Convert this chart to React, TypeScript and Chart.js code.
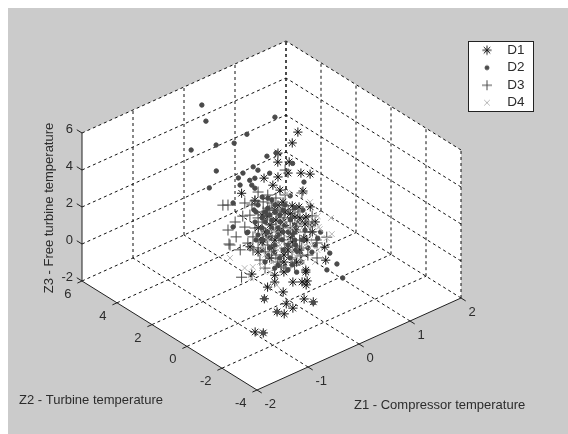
import React, { useEffect, useRef } from "react";
import { Chart, registerables } from "chart.js";
import { drawPoint } from "chart.js/helpers";

Chart.register(...registerables);

const seriesNames = ["D1", "D2", "D3", "D4"];

const d1Z1 = [0.86,0.75,0.47,0.81,0.69,1.01,0.92,1.1,0.54,0.47,0.37,0.1,0.51,0.96,0.36,0.57,0.75,0.54,0.76,0.41,1.02,0.46,0.18,-0.42,0.7,0.35,0.37,0.16,-0.73,-0.28,-0.1,-0.28,-0.42,-0.61,-0.43,-0.33,-0.35,0.33,-0.8,-1.17,-0.39,-0.21,-0.74,-0.61,-0.92,-0.78,-1.35,-1.19,0.72,0.33,0.47,-0.03,0.57,0.48,0.41,-0.02,0.21,-0.38,-0.1,0.15,0.8,1,0.16,-0.26,0.61,0.27,0.43,0.71,0.9,0.22,0.53,0.75,0.35,0.29,1.2,0.08,-0.1];
const d1Z2 = [2,2,2,3,2,3,2,2,3,2,2,3,2,2,3,2,2,1,1,2,2,1,2,1,0,0,1,2,0,0,0,0,0,-2,-2,-2,-2,0,-2,-2,-2,-2,-2,-2,-2,-2,-2,-2,0,0,2,1,2,1,2,0,0,0,0,0,1,2,2,1,2,2,2,2,2,2,2,2,2,0,2,2,0];
const d1Z3 = [4.85,4.4,4.2,2.7,3.45,1.86,2.56,2.28,2.17,2.91,2.59,1.9,2.15,1.54,1.2,1.43,1,1.79,1.52,1.19,0.06,1.35,-0.14,0.83,0.01,0.83,0.39,-0.22,0.33,-0.29,-0.34,-0.66,-0.76,0.93,0.71,0.64,0.45,-0.88,0.63,0.72,-0.26,-0.64,-0.09,-0.48,-0.3,-0.58,-0.85,-1.1,-0.72,-0.77,1.39,1.53,0.35,0.63,-0.43,0.75,0.46,0.76,0.2,-0.12,0.12,-0.29,1.24,1.66,0.84,1.04,0.63,0.62,0.16,0.25,-0.14,-0.95,-0.78,1,-0.43,-0.66,0.58];

const d2Z1 = [0.35,0.43,0.14,0.63,0.64,0.89,1.44,0.29,-0.19,0.94,1.12,0.47,0.26,0.36,0.42,0.67,0.38,0.07,0.3,0.36,0.65,0.98,1.1,-0.41,0,-0.48,-0.41,0.62,0.8,0.94,0.71,0.4,0.51,0.45,0.15,-0.21,-1.17,-0.92,-1.19,0.16,0.35,0.27,0.51,0.71,0.35,0.16,0.47,0.75,0.31,0.55,0.27,0.16,-0.28,0.02,0.25,-0.28,-0.02,1.14,0.9,-0.47,0.57,0.13,0.04,0.71,-0.12,0.08,0.22,0.41,0.61,0.31,0.51,0.02,0.22,0.8,0.27,0.67,0.08,0.41,-0.02,0.17,-0.42,-0.18,0.8,0.41,0.57,0.35,0.61,0.16,0.47,0.8,1,0.31,0.57,0.8,1.06,0.47,0.75,0.16,0.27,0.8,0.04,0.96,1.25];
const d2Z2 = [6,6,6,6,5,5,5,5,4,4,4,4,3,3,3,4,4,3,3,3,3,2,3,2,2,1,2,0,0,0,-1,-1,0,0,0,-2,-2,-2,-2,2,2,2,2,2,2,2,2,2,2,2,0,2,0,0,0,0,0,2,2,0,2,0,2,2,2,2,2,2,2,2,2,2,2,2,2,2,2,2,0,0,0,0,2,2,2,2,2,2,2,2,2,2,2,2,2,2,2,2,2,2,2,2,2];
const d2Z3 = [4.59,3.62,2.42,2.08,2.76,2.93,3.17,1.69,1.96,2.27,2.22,1.94,2.4,2.39,2.75,2.03,1.79,2.38,2.09,1.85,2.3,2,2.27,2.6,1.71,1.66,1.3,0.92,-0.44,-1.2,-1.08,-0.26,0.36,0.05,-0.66,-0.69,0.72,-0.3,-1.1,2.21,1.81,1.47,0.8,0.29,0.73,0.54,0.15,-0.57,-0.19,-0.59,0.92,-0.65,0.96,0.27,-0.24,0.09,-0.33,-0.52,-0.06,0.66,-0.19,0.83,0.04,1.59,0.66,1.88,1.33,1.46,1.22,1.05,0.43,1.03,0.79,-0.1,0.18,-0.31,0.26,-0.7,1.02,0.4,0.97,0.51,-0.91,1.09,1,0.3,0.14,-0.11,-0.23,-0.48,-0.62,-0.73,-1.16,-1.45,-1.66,-1.85,-2.19,1.08,2.01,0.82,1.55,0.51,-1.37];

const d3Z1 = [-0.61,-0.51,-0.18,0.02,0.18,-0.22,-0.37,-0.51,-0.18,-0.35,-0.02,-0.47,0.08,0.61,0.94,1.1,0.55,-0.49,-0.27,-0.02,-0.93,-0.47,0.55,0.74,0.31,0.55,0.16,0.43,0.71,0.21,0.27,-0.08,-0.57,-0.22,0.11,0.37,-0.04,0.86,1.14,0.27,0.61,0.35,0.24,0.51,0.75,0.02,0.35,0.16,0.59,0.06,0.25,-0.34,0.08,-0.06,0.27,0.45,0.67,0.08,0.35,0.57,0.84,0.24,0.49,0.75,1,0.39,0.67,0.92,0.22,0.53,0.43,0.82,0.18,0.59,0.43,-0.08,-0.12,1.22,1.06];
const d3Z2 = [2,2,2,2,2,2,2,2,2,2,2,2,2,2,2,2,0,2,2,2,0,0,0,0,2,2,2,2,2,0,2,0,0,0,0,0,2,2,2,2,2,2,2,2,2,2,2,2,2,0,0,0,2,0,2,2,2,2,2,2,2,2,2,2,2,2,2,2,2,2,2,2,2,2,2,2,2,2,2];
const d3Z3 = [2.73,2.61,2.31,2.17,1.92,1.65,1.52,1.26,1.01,0.69,0.28,0.4,2.58,3.11,1.46,-0.85,0.42,0.48,-0.11,-0.43,0.41,0.33,-0.39,0.5,1.32,1.3,0.86,0.09,-0.14,1,-0.52,0.93,0.89,0.35,-0.23,-0.01,2.03,0.53,-0.03,2.18,1.76,1.65,1.09,0.97,0.35,0.71,-0.14,-0.11,-0.64,0.22,0.52,0.71,-0.44,-0.17,1.47,0.93,0.88,1.18,0.51,0.14,-0.21,0.12,-0.42,-0.51,-0.72,-0.72,-1.39,-1.92,-0.83,-1.98,-1.26,-1.26,1.38,0.55,1.82,1.53,0.07,-1.43,-0.26];

const d4Z1 = [-0.47,-0.87,-0.71,-0.75,0.84,0.56,-0.57,-0.24,1.25,1.51,1.27,1.29,0.65,1.1,0.74,0.9,0.41,0.06,0.31,0.51,0.22,0.67,0.9,0.51,-0.38,0.59,0.45,0.13,0.39,-0.53,0.16,0.47,0.75,0.27,0.35,1.14,0.27];
const d4Z2 = [2,0,0,0,0,0,0,0,2,2,2,2,2,2,0,2,0,0,0,2,2,2,2,0,0,2,0,0,2,0,2,2,2,0,2,2,2];
const d4Z3 = [-0.3,0.83,0.69,0.14,0.54,0.02,0.78,-0.88,-0.18,-0.6,-0.79,-0.93,1.82,0.77,0.45,-0.49,0.75,0.65,0.6,-0.82,-0.99,-0.63,-0.06,-0.56,0,0.33,0.38,0.23,0.03,0.41,-0.54,-1.04,-0.19,-0.27,-1.54,-0.52,-0.25];

const z1Ticks = [-2, -1, 0, 1, 2];
const z2Ticks = [-4, -2, 0, 2, 4, 6];
const z3Ticks = [-2, 0, 2, 4, 6];
const z1Title = "Z1 - Compressor temperature";
const z2Title = "Z2 - Turbine temperature";
const z3Title = "Z3 - Free turbine temperature";

const WIDTH = 560;
const HEIGHT = 426;
const INK = "#2c2c2c";
const GRAY = "#cbcbcb";
const FONT = '13px "Liberation Sans", Arial, sans-serif';

type P = { x: number; y: number };

// Fixed oblique view of the 3D box.
const project = (z1: number, z2: number, z3: number): P => ({
  x: 281 + 51 * z1 - 17.5 * z2,
  y: 255.4 - 23 * z1 - 10.9 * z2 - 18.5 * z3,
});

const cloud = (a: number[], b: number[], c: number[]) => a.map((v, i) => project(v, b[i], c[i]));
const gap: P = { x: NaN, y: NaN };

const Z1A = z1Ticks[0], Z1B = z1Ticks[z1Ticks.length - 1];
const Z2A = z2Ticks[0], Z2B = z2Ticks[z2Ticks.length - 1];
const Z3A = z3Ticks[0], Z3B = z3Ticks[z3Ticks.length - 1];

function gridSegments(): P[] {
  const out: P[] = [];
  const seg = (a: P, b: P) => out.push(a, b, gap);
  z1Ticks.slice(1).forEach((t) => {
    seg(project(t, Z2A, Z3A), project(t, Z2B, Z3A));
    seg(project(t, Z2B, Z3A), project(t, Z2B, Z3B));
  });
  z2Ticks.forEach((t) => {
    if (t !== Z2A) seg(project(Z1A, t, Z3A), project(Z1B, t, Z3A));
    seg(project(Z1B, t, Z3A), project(Z1B, t, Z3B));
  });
  z3Ticks.slice(1).forEach((t) => {
    seg(project(Z1A, Z2B, t), project(Z1B, Z2B, t));
    seg(project(Z1B, Z2A, t), project(Z1B, Z2B, t));
  });
  return out;
}

function axisSegments(): P[] {
  const out: P[] = [];
  const seg = (a: P, b: P) => out.push(a, b, gap);
  seg(project(Z1A, Z2B, Z3A), project(Z1A, Z2B, Z3B));
  seg(project(Z1A, Z2A, Z3A), project(Z1A, Z2B, Z3A));
  seg(project(Z1A, Z2A, Z3A), project(Z1B, Z2A, Z3A));
  z3Ticks.forEach((t) => seg(project(Z1A, Z2B, t), project(Z1A, Z2B + 0.3, t)));
  z2Ticks.forEach((t) => seg(project(Z1A, t, Z3A), project(Z1A - 0.09, t, Z3A)));
  z1Ticks.forEach((t) => seg(project(t, Z2A, Z3A), project(t, Z2A - 0.27, Z3A)));
  return out;
}

const seriesStyle = [
  { style: "star", radius: 4.6, color: "#161616", legendRadius: 4.6 },
  { style: "circle", radius: 2.2, color: "#4a4a4a", legendRadius: 2 },
  { style: "cross", radius: 5.5, color: "#484848", legendRadius: 5 },
  { style: "crossRot", radius: 4, color: "#b8b8b8", legendRadius: 4 },
];

function glyph(i: number): HTMLCanvasElement {
  const s = seriesStyle[i];
  const c = document.createElement("canvas");
  c.width = 14;
  c.height = 14;
  const ctx = c.getContext("2d")!;
  ctx.strokeStyle = s.color;
  ctx.fillStyle = s.color;
  ctx.lineWidth = 1;
  drawPoint(ctx, { pointStyle: s.style, rotation: 0, borderWidth: 1, radius: s.legendRadius }, 7, 7);
  return c;
}

export default function App() {
  const ref = useRef<HTMLCanvasElement>(null);

  useEffect(() => {
    const pointSet = (label: string, i: number, data: P[]) => ({
      label,
      data,
      showLine: false,
      order: 4 - i,
      pointStyle: seriesStyle[i].style,
      pointRadius: seriesStyle[i].radius,
      pointBorderWidth: 1,
      pointBorderColor: seriesStyle[i].color,
      pointBackgroundColor: seriesStyle[i].color,
    });

    const chart = new Chart(ref.current!, {
      type: "scatter",
      data: {
        datasets: [
          pointSet(seriesNames[0], 0, cloud(d1Z1, d1Z2, d1Z3)),
          pointSet(seriesNames[1], 1, cloud(d2Z1, d2Z2, d2Z3)),
          pointSet(seriesNames[2], 2, cloud(d3Z1, d3Z2, d3Z3)),
          pointSet(seriesNames[3], 3, cloud(d4Z1, d4Z2, d4Z3)),
          {
            label: "grid",
            data: gridSegments(),
            showLine: true,
            spanGaps: false,
            order: 10,
            pointRadius: 0,
            borderColor: "#111",
            borderWidth: 1,
            borderDash: [3, 3],
          },
          {
            label: "axes",
            data: axisSegments(),
            showLine: true,
            spanGaps: false,
            order: 9,
            pointRadius: 0,
            borderColor: "#222",
            borderWidth: 1,
          },
        ],
      } as never,
      options: {
        animation: false,
        responsive: false,
        events: [],
        layout: { padding: 0, autoPadding: false },
        scales: {
          x: { type: "linear", display: false, min: 0, max: WIDTH },
          y: { type: "linear", display: false, min: 0, max: HEIGHT, reverse: true },
        },
        plugins: {
          tooltip: { enabled: false },
          legend: {
            position: "chartArea",
            align: "start",
            labels: {
              usePointStyle: true,
              pointStyleWidth: 27,
              boxHeight: 13,
              padding: 4,
              color: INK,
              font: { family: '"Liberation Sans", Arial, sans-serif', size: 13.5, lineHeight: 1 },
              generateLabels: () =>
                seriesNames.map((text, i) => ({
                  text,
                  datasetIndex: i,
                  hidden: false,
                  lineWidth: 1,
                  fillStyle: seriesStyle[i].color,
                  strokeStyle: seriesStyle[i].color,
                  fontColor: INK,
                  pointStyle: glyph(i),
                })),
            },
          },
        },
      } as never,
      plugins: [
        {
          id: "box3d",
          afterUpdate(c: any) {
            const lg = c.legend;
            lg.left = 461.5;
            lg.right = 530;
            lg.top = 31.5;
            lg.bottom = 110;
          },
          beforeDraw(c: any) {
            const ctx = c.ctx;
            ctx.save();
            ctx.fillStyle = GRAY;
            ctx.fillRect(0, 0, WIDTH, HEIGHT);
            ctx.fillStyle = "#ffffff";
            ctx.strokeStyle = "#222";
            ctx.lineWidth = 1;
            ctx.fillRect(460, 33, 65, 70);
            ctx.strokeRect(460.5, 33.5, 65, 70);
            ctx.restore();
          },
          beforeDatasetsDraw(c: any) {
            const ctx = c.ctx;
            const sx = c.scales.x;
            const sy = c.scales.y;
            const corners = [
              project(Z1A, Z2B, Z3B),
              project(Z1B, Z2B, Z3B),
              project(Z1B, Z2A, Z3B),
              project(Z1B, Z2A, Z3A),
              project(Z1A, Z2A, Z3A),
              project(Z1A, Z2B, Z3A),
            ];
            ctx.save();
            ctx.fillStyle = "#ffffff";
            ctx.beginPath();
            corners.forEach((p, i) => {
              const X = sx.getPixelForValue(p.x);
              const Y = sy.getPixelForValue(p.y);
              if (i) ctx.lineTo(X, Y);
              else ctx.moveTo(X, Y);
            });
            ctx.closePath();
            ctx.fill();
            ctx.restore();
          },
          afterDatasetsDraw(c: any) {
            const ctx = c.ctx;
            const sx = c.scales.x;
            const sy = c.scales.y;
            const px = (p: P) => ({ x: sx.getPixelForValue(p.x), y: sy.getPixelForValue(p.y) });
            ctx.save();
            ctx.fillStyle = INK;
            ctx.font = FONT;
            ctx.textBaseline = "middle";
            ctx.textAlign = "right";
            z3Ticks.forEach((t) => {
              const p = px(project(Z1A, Z2B, t));
              ctx.fillText(String(t), p.x - 9, p.y - 3.5);
            });
            z2Ticks.forEach((t) => {
              const p = px(project(Z1A, t, Z3A));
              ctx.fillText(String(t), p.x - 10.5, p.y + 13.5);
            });
            ctx.textAlign = "left";
            z1Ticks.forEach((t) => {
              const p = px(project(t, Z2A, Z3A));
              ctx.fillText(String(t), p.x + 7.5, p.y + 14.5);
            });
            ctx.fillText(z1Title, 346, 397);
            ctx.fillText(z2Title, 11, 392);
            ctx.translate(41, 200);
            ctx.rotate(-Math.PI / 2);
            ctx.textAlign = "center";
            ctx.fillText(z3Title, 0, 0);
            ctx.restore();
          },
        },
      ] as never,
    });
    return () => chart.destroy();
  }, []);

  return (
    <div style={{ position: "fixed", left: 8, top: 8, width: WIDTH, height: HEIGHT, background: GRAY }}>
      <canvas
        ref={ref}
        width={WIDTH}
        height={HEIGHT}
        style={{ display: "block", width: WIDTH, height: HEIGHT, filter: "blur(0.5px)" }}
      />
    </div>
  );
}
